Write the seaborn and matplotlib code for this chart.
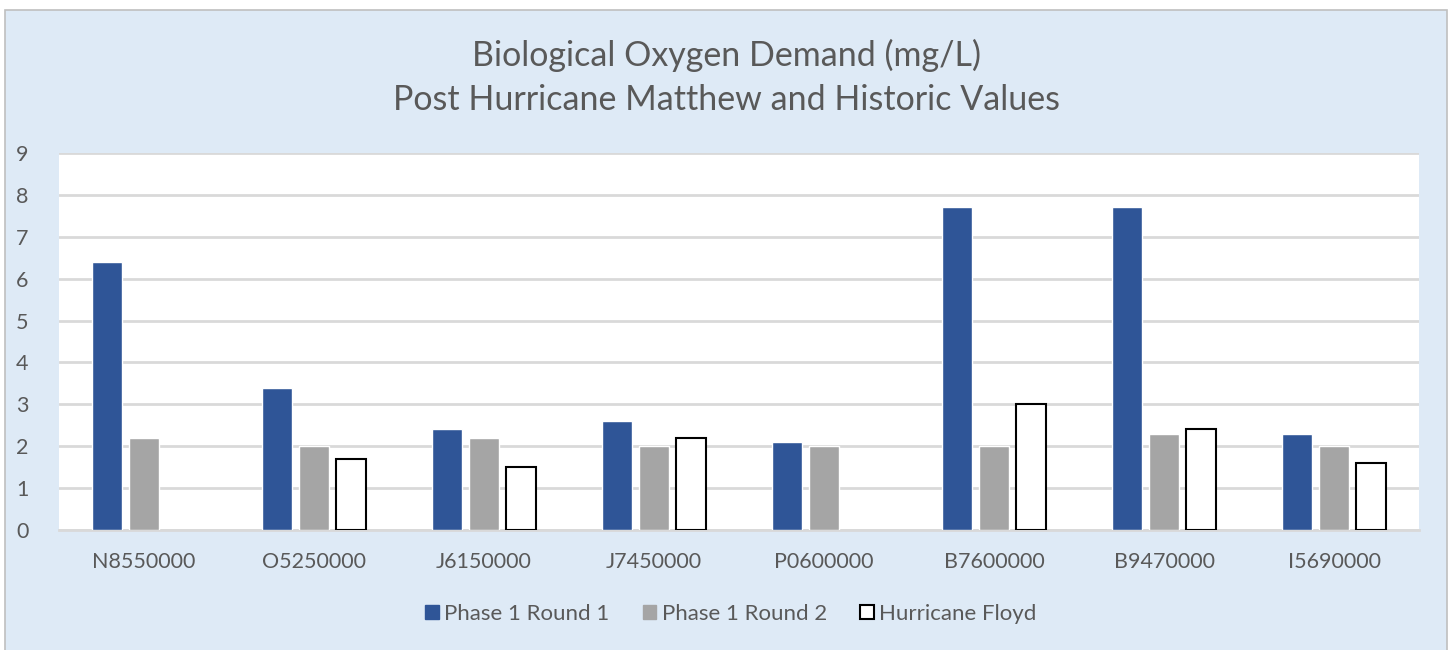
import matplotlib.pyplot as plt
import pandas as pd
import seaborn as sns
from matplotlib.patches import Rectangle, Patch

sites = ["N8550000", "O5250000", "J6150000", "J7450000",
         "P0600000", "B7600000", "B9470000", "I5690000"]
phase1_round1 = [6.4, 3.4, 2.4, 2.6, 2.1, 7.7, 7.7, 2.3]
phase1_round2 = [2.2, 2.0, 2.2, 2.0, 2.0, 2.0, 2.3, 2.0]
hurricane_floyd = [None, 1.7, 1.5, 2.2, None, 3.0, 2.4, 1.6]
series = ["Phase 1 Round 1", "Phase 1 Round 2", "Hurricane Floyd"]

df = pd.DataFrame({
    "site": sites * 3,
    "series": [series[0]] * 8 + [series[1]] * 8 + [series[2]] * 8,
    "BOD": phase1_round1 + phase1_round2 + hurricane_floyd,
}).astype({"BOD": float})

sns.set_theme(style="white")
plt.rcParams["font.family"] = ["Lato", "DejaVu Sans"]
txt = "#595959"
blue, gray = "#2F5597", "#A5A5A5"

fig = plt.figure(figsize=(14.53, 6.5), dpi=100)
fig.patch.set_facecolor("white")
# chart area background
fig.patches.append(Rectangle((5 / 1453, -0.05), 1442 / 1453, 1 - 10 / 650 + 0.05,
                             transform=fig.transFigure, facecolor="#DEEAF6",
                             edgecolor="#BFBFBF", linewidth=1.2, zorder=-5))

ax = fig.add_axes([59 / 1453, 1 - 530 / 650, 1360 / 1453, 377 / 650])
ax.set_zorder(2)
sns.barplot(data=df, x="site", y="BOD", hue="series", hue_order=series,
            palette=[blue, gray, "white"], width=0.65, gap=0.19, saturation=1,
            errorbar=None, legend=False, ax=ax, zorder=3)

for bar in ax.containers[2]:
    bar.set_facecolor("white")
    bar.set_edgecolor("black")
    bar.set_linewidth(1.5)

ax.set_facecolor("white")
ax.set_ylim(0, 9)
ax.set_yticks(range(0, 10))
ax.yaxis.grid(True, color="#D9D9D9", linewidth=2, zorder=0)
ax.set_axisbelow(True)
for s in ["top", "right", "left"]:
    ax.spines[s].set_visible(False)
ax.spines["bottom"].set_color("#D9D9D9")
ax.spines["bottom"].set_linewidth(2)
ax.set_xlabel("")
ax.set_ylabel("")
ax.tick_params(axis="both", length=0, labelsize=15.5, labelcolor=txt)
ax.tick_params(axis="y", pad=22)
ax.tick_params(axis="x", pad=16)

fig.text(0.5, 1 - 55 / 650, "Biological Oxygen Demand (mg/L)", ha="center",
         va="center", fontsize=24.5, color=txt)
fig.text(0.5, 1 - 100 / 650, "Post Hurricane Matthew and Historic Values", ha="center",
         va="center", fontsize=24.5, color=txt)

handles = [Patch(facecolor=blue, edgecolor=blue),
           Patch(facecolor=gray, edgecolor=gray),
           Patch(facecolor="white", edgecolor="black", linewidth=1.5)]
fig.legend(handles, series, loc="center", bbox_to_anchor=(0.503, 1 - 614 / 650),
           ncol=3, frameon=False, fontsize=16, labelcolor=txt,
           handlelength=0.6, handleheight=0.6, handletextpad=0.25, columnspacing=1.5)

fig.savefig("out.png", dpi=100)
